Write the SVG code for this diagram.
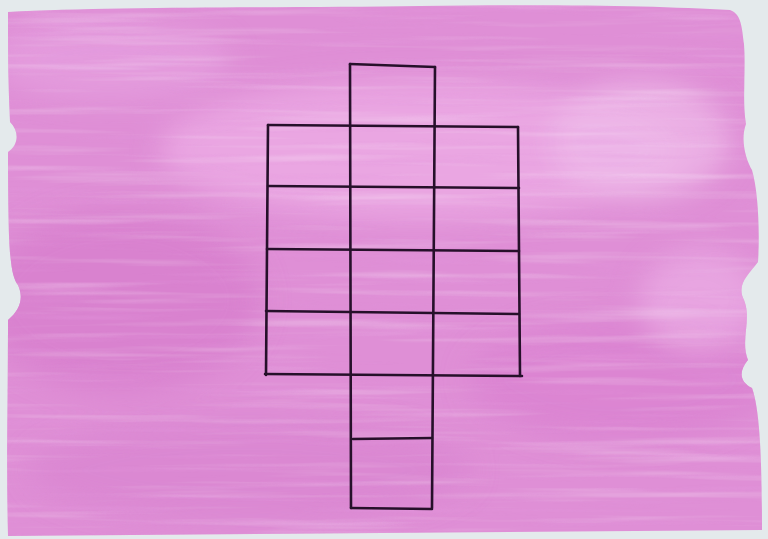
<svg xmlns="http://www.w3.org/2000/svg" width="768" height="539" viewBox="0 0 768 539">
<defs>
<filter id="streaks" x="0" y="0" width="100%" height="100%">
<feTurbulence type="fractalNoise" baseFrequency="0.004 0.11" numOctaves="3" seed="7" result="n"/>
<feColorMatrix in="n" type="matrix" values="0 0 0 0 1  0 0 0 0 1  0 0 0 0 1  1.5 0 0 0 -0.75"/>
</filter>
<filter id="streaksDark" x="0" y="0" width="100%" height="100%">
<feTurbulence type="fractalNoise" baseFrequency="0.006 0.15" numOctaves="2" seed="3" result="n"/>
<feColorMatrix in="n" type="matrix" values="0 0 0 0 0.78  0 0 0 0 0.32  0 0 0 0 0.74  0 1.6 0 0 -0.8"/>
</filter>
<filter id="soft"><feGaussianBlur stdDeviation="14"/></filter>
<clipPath id="paint">
<path d="M8,12 C120,6 300,8 420,6 C560,4 660,6 730,10 C742,14 742,30 744,44 C746,70 742,100 746,124 C740,140 746,160 752,170 C758,190 760,230 758,262 C748,275 736,285 744,300 C752,320 740,340 748,360 C738,372 740,382 752,388 C760,410 762,460 762,530 L8,536 C6,460 8,400 8,320 C20,310 24,298 18,285 C10,275 8,250 8,152 C18,146 20,132 10,122 C8,80 8,40 8,12 Z"/>
</clipPath>
<style>
.ln{stroke:#26102a;stroke-width:2.6;fill:none;stroke-linecap:round}
</style>
</defs>
<rect width="768" height="539" fill="#e4eaec"/>
<g id="paper" clip-path="url(#paint)">
<rect width="768" height="539" fill="#df8fd6"/>
<g filter="url(#soft)">
<ellipse cx="420" cy="150" rx="260" ry="70" fill="#ecabe5" opacity="0.8"/>
<ellipse cx="120" cy="300" rx="140" ry="90" fill="#d77ecd" opacity="0.8"/>
<ellipse cx="620" cy="380" rx="150" ry="60" fill="#da80d0" opacity="0.7"/>
<ellipse cx="250" cy="470" rx="220" ry="50" fill="#d985d0" opacity="0.7"/>
<ellipse cx="640" cy="140" rx="90" ry="60" fill="#efbce9" opacity="0.7"/>
<ellipse cx="700" cy="300" rx="60" ry="50" fill="#eaaae4" opacity="0.8"/>
<ellipse cx="110" cy="60" rx="120" ry="40" fill="#e6a0df" opacity="0.7"/>
</g>
<rect width="768" height="539" filter="url(#streaksDark)" opacity="0.45"/>
<rect width="768" height="539" filter="url(#streaks)" opacity="0.4"/>
</g>
<g id="grid" class="ln">
<path d="M350,64 L435,67"/>
<path d="M350,64 L351,508"/>
<path d="M435,67 L432,508"/>
<path d="M268,125 L518,127"/>
<path d="M268,125 L266,375"/>
<path d="M518,127 L520,376"/>
<path d="M268,186 L519,188"/>
<path d="M267,249 L519,251"/>
<path d="M266,311 L519,314"/>
<path d="M265,374 L522,376"/>
<path d="M353,439 L432,438"/>
<path d="M351,508 L432,509"/>
</g>
</svg>
